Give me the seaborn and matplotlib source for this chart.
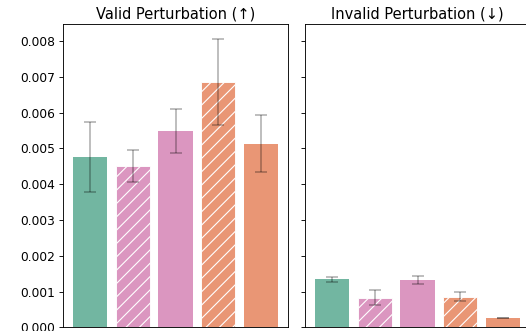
import matplotlib
matplotlib.use("Agg")
import matplotlib.pyplot as plt
import seaborn as sns
import numpy as np
import pandas as pd

# ---- data ----
methods = ["A", "B-hatched", "B", "C-hatched", "C"]
valid_mean = [0.00476, 0.00451, 0.00549, 0.00685, 0.00513]
valid_err = [0.00097, 0.00046, 0.00061, 0.00120, 0.00080]
invalid_mean = [0.00135, 0.00083, 0.00132, 0.00086, 0.00026]
invalid_err = [0.00007, 0.00021, 0.00012, 0.00012, 0.00001]
hatched = [False, True, False, True, False]
base_colors = ["#66c2a5", "#e78ac3", "#e78ac3", "#fc8d62", "#fc8d62"]
titles = ["Valid Perturbation (\u2191)", "Invalid Perturbation (\u2193)"]
yticks = [0.000, 0.001, 0.002, 0.003, 0.004, 0.005, 0.006, 0.007, 0.008]

plt.rcParams["hatch.color"] = "white"
plt.rcParams["hatch.linewidth"] = 1.0

DPI = 80
W, H = 526, 331
fig = plt.figure(figsize=(W / DPI, H / DPI), dpi=DPI)

bottom_px = 327.3
top_px = 24
ax_h = (bottom_px - top_px) / H
ax_w = 225 / W
ax1 = fig.add_axes([63 / W, (H - bottom_px) / H, ax_w, ax_h])
ax2 = fig.add_axes([305 / W, (H - bottom_px) / H, ax_w, ax_h], sharey=ax1)

for ax, means, errs, title in [
    (ax1, valid_mean, valid_err, titles[0]),
    (ax2, invalid_mean, invalid_err, titles[1]),
]:
    df = pd.DataFrame({"method": methods, "value": means})
    sns.barplot(data=df, x="method", y="value", hue="method",
                palette=base_colors, legend=False, ax=ax, width=0.8,
                saturation=0.75)
    for patch, h in zip(ax.patches, hatched):
        if h:
            patch.set_hatch("//")
            patch.set_edgecolor("white")
            patch.set_linewidth(0.8)
        else:
            patch.set_linewidth(0)
    ax.errorbar(np.arange(len(methods)), means, yerr=errs, fmt="none",
                ecolor="black", alpha=0.3, elinewidth=1.5, capsize=5.2,
                capthick=1.5)
    ax.set_xlim(-0.64, 4.64)
    ax.set_title(title, fontsize=13.2, pad=5)
    ax.set_xlabel("")
    ax.set_ylabel("")
    ax.set_xticks([])
    ax.tick_params(axis="y", labelsize=11)

ax1.set_ylim(0, 0.00848)
ax1.set_yticks(yticks)
ax1.set_yticklabels([f"{v:.3f}" for v in yticks])
ax2.tick_params(axis="y", labelleft=False)

fig.savefig("out.png", dpi=DPI)
